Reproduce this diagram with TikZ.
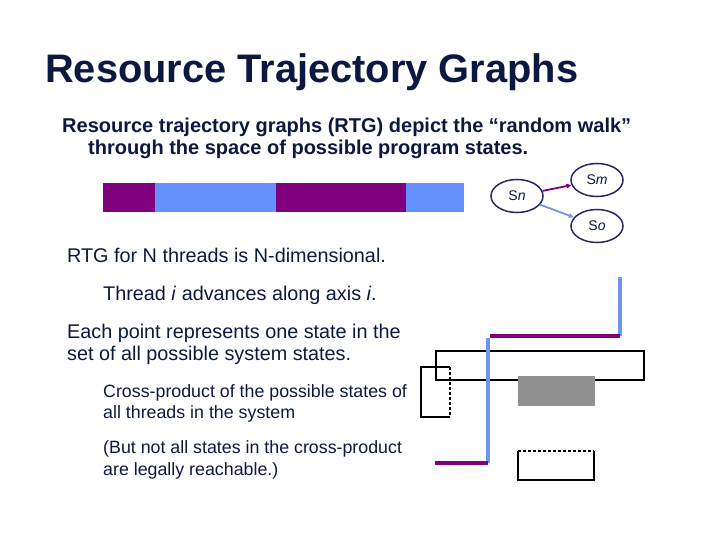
\documentclass[tikz,border=0pt]{standalone}
\usepackage{fontspec}
\setmainfont{Liberation Sans}
\usetikzlibrary{arrows.meta,shapes.geometric}
\definecolor{navy}{RGB}{12,24,64}
\definecolor{ellnavy}{RGB}{40,40,100}
\definecolor{purp}{RGB}{128,0,128}
\definecolor{lblue}{RGB}{102,146,255}
\definecolor{lineblue}{RGB}{110,150,235}
\definecolor{gbox}{RGB}{145,145,145}
\tikzset{
  txt/.style={anchor=base west, inner sep=0pt, text=navy},
  st/.style={ellipse, draw=ellnavy, line width=1.5pt, minimum width=52pt, minimum height=33pt, inner sep=0pt, font=\fontsize{14}{16}\selectfont, text=navy},
  trk/.style={line width=4pt},
  blk/.style={line width=2pt, draw=black}
}
\begin{document}
\begin{tikzpicture}[x=1pt,y=-1pt]
\useasboundingbox (0,0) rectangle (720,540);
% title
\node[txt, font=\fontsize{39.8}{44}\bfseries\selectfont] (title) at (45,83) {Resource Trajectory Graphs};
\node[txt, font=\fontsize{20}{23}\bfseries\selectfont] (sub1) at (62,133) {Resource trajectory graphs (RTG) depict the “random walk”};
\node[txt, font=\fontsize{20}{23}\bfseries\selectfont] (sub2) at (88,155) {through the space of possible program states.};
% bar
\fill[purp] (103,183) rectangle (155,212);
\fill[lblue] (155,183) rectangle (276,212);
\fill[purp] (276,183) rectangle (406,212);
\fill[lblue] (406,183) rectangle (464,212);
% states
\node[st] (sn) at (517,196) {S\textit{n}};
\node[st] (sm) at (597,180) {S\textit{m}};
\node[st] (so) at (597,226) {S\textit{o}};
\draw[purp, line width=1.8pt, -{Triangle[length=5pt,width=4.5pt]}] (sn) -- (sm);
\draw[lineblue, line width=1.8pt, -{Triangle[length=5pt,width=4.5pt]}] (sn) -- (so);
% body text
\node[txt, font=\fontsize{19.8}{23}\selectfont] (b1) at (67,262) {RTG for N threads is N-dimensional.};
\node[txt, font=\fontsize{19.8}{23}\selectfont] (b2) at (103,300) {Thread \textit{i} advances along axis \textit{i}.};
\node[txt, font=\fontsize{19.8}{23}\selectfont] (b3) at (67,338) {Each point represents one state in the};
\node[txt, font=\fontsize{19.8}{23}\selectfont] (b4) at (67,360) {set of all possible system states.};
\node[txt, font=\fontsize{17.8}{21}\selectfont] (c1) at (103,397) {Cross-product of the possible states of};
\node[txt, font=\fontsize{17.8}{21}\selectfont] (c2) at (103,418) {all threads in the system};
\node[txt, font=\fontsize{17.8}{21}\selectfont] (c3) at (103,453) {(But not all states in the cross-product};
\node[txt, font=\fontsize{17.8}{21}\selectfont] (c4) at (103,475) {are legally reachable.)};
% RTG diagram
\draw[blk] (436,351) rectangle (644,380);
\draw[blk] (450,367) -- (421,367) -- (421,417) -- (450,417);
\draw[blk, dash pattern=on 3pt off 2pt] (450,367) -- (450,417);
\fill[gbox] (518,376) rectangle (595,406);
\draw[blk] (518,451) -- (518,480) -- (594,480) -- (594,451);
\draw[blk, dash pattern=on 3pt off 2pt] (518,451) -- (594,451);
\draw[blk, dash pattern=on 3pt off 2pt] (518,451) -- (518,480);
\draw[trk, lineblue] (620,277) -- (620,336);
\draw[trk, purp] (490,336) -- (620,336);
\draw[trk, lineblue] (488,338) -- (488,463);
\draw[trk, purp] (435,463) -- (488,463);
\end{tikzpicture}
\end{document}
